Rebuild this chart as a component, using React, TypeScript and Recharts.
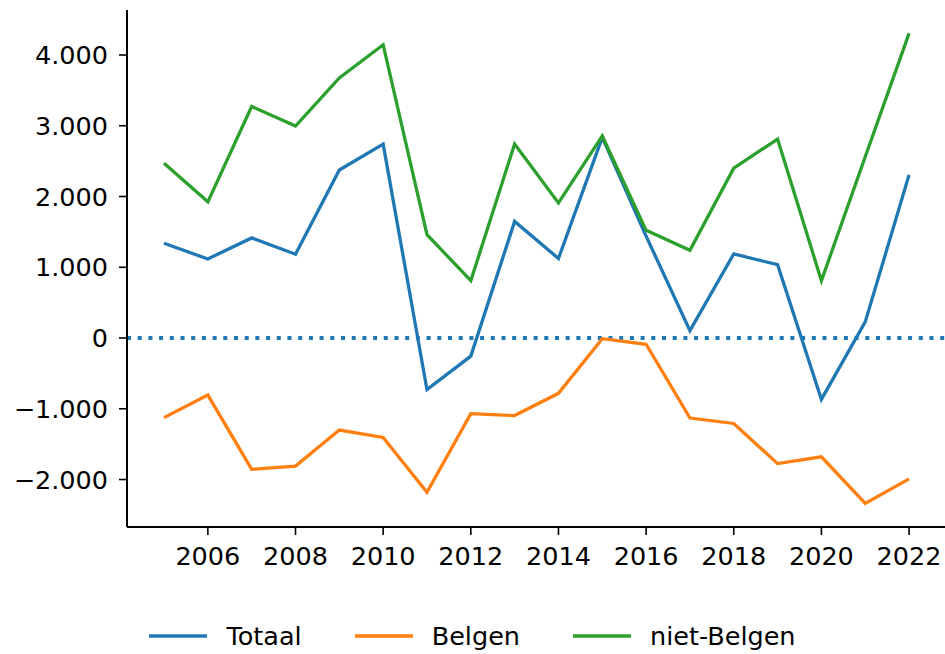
import { CartesianGrid, Legend, Line, LineChart, ReferenceLine, XAxis, YAxis } from "recharts"

const years = [2005, 2006, 2007, 2008, 2009, 2010, 2011, 2012, 2013, 2014, 2015, 2016, 2017, 2018, 2019, 2020, 2021, 2022]
const totaal = [1340, 1117, 1415, 1185, 2374, 2740, -730, -256, 1648, 1124, 2835, 1440, 104, 1188, 1037, -868, 228, 2306]
const belgen = [-1125, -806, -1856, -1810, -1301, -1405, -2180, -1070, -1096, -782, -10, -88, -1131, -1208, -1775, -1680, -2338, -1990]
const nietBelgen = [2470, 1925, 3273, 2995, 3675, 4145, 1462, 810, 2743, 1910, 2856, 1522, 1240, 2400, 2812, 810, 2562, 4306]

const yTicks = [-2000, -1000, 0, 1000, 2000, 3000, 4000]
const xTicks = [2006, 2008, 2010, 2012, 2014, 2016, 2018, 2020, 2022]

const series = [
  { key: "totaal", name: "Totaal", color: "#1f77b4" },
  { key: "belgen", name: "Belgen", color: "#ff7f0e" },
  { key: "nietBelgen", name: "niet-Belgen", color: "#2ca02c" },
]

const data = years.map((year, i) => ({
  year,
  totaal: totaal[i],
  belgen: belgen[i],
  nietBelgen: nietBelgen[i],
}))

const font = "'DejaVu Sans', sans-serif"

const formatNumber = (v: number) => {
  const s = Math.abs(v).toString().replace(/\B(?=(\d{3})+(?!\d))/g, ".")
  return v < 0 ? "\u2212" + s : s
}

// keep legend in series order (recharts sorts it by name otherwise)
const seriesOrder = (name: string) => series.findIndex((s) => s.name === name)

const renderLegend = (props: any) => {
  const items = [...(props.payload || [])].sort((a: any, b: any) => seriesOrder(a.value) - seriesOrder(b.value))
  return (
    <div
      style={{
        height: 40,
        paddingTop: 9,
        boxSizing: "border-box",
        display: "flex",
        justifyContent: "center",
        fontFamily: font,
        fontSize: 25.5,
        color: "#000",
      }}
    >
      {items.map((entry: any, i: number) => (
        <div
          key={entry.value}
          style={{ display: "flex", alignItems: "center", height: 26, lineHeight: "26px", marginLeft: i === 0 ? 0 : 53 }}
        >
          <svg width={58} height={6} style={{ marginRight: 19 }}>
            <line x1={0} y1={3} x2={58} y2={3} stroke={entry.color} strokeWidth={3.5} />
          </svg>
          <span>{entry.value}</span>
        </div>
      ))}
    </div>
  )
}

export default function App() {
  return (
    <div style={{ width: 945, height: 654, background: "#fff" }}>
      <style>{`body { margin: 0; }`}</style>
      <LineChart width={945} height={654} data={data} margin={{ top: 10, right: 0, left: 0, bottom: 0 }}>
        <CartesianGrid stroke="none" />
        <XAxis
          dataKey="year"
          type="number"
          domain={[2004.155, 2022.82]}
          ticks={xTicks}
          allowDataOverflow
          height={87}
          tickSize={8}
          tickMargin={12}
          stroke="#000"
          strokeWidth={2}
          tick={{ fill: "#000", fontSize: 25.5, fontFamily: font }}
          tickLine={{ stroke: "#000", strokeWidth: 1.6 }}
        />
        <YAxis
          type="number"
          domain={[-2671, 4636]}
          ticks={yTicks}
          allowDataOverflow
          width={127}
          tickSize={8}
          tickMargin={11}
          stroke="#000"
          strokeWidth={2}
          tickFormatter={formatNumber}
          tick={{ fill: "#000", fontSize: 25.5, fontFamily: font }}
          tickLine={{ stroke: "#000", strokeWidth: 1.6 }}
        />
        <ReferenceLine y={0} stroke="#1f77b4" strokeWidth={3.8} strokeDasharray="4 6.7" />
        {series.map((s) => (
          <Line
            key={s.key}
            dataKey={s.key}
            name={s.name}
            stroke={s.color}
            strokeWidth={3.3}
            dot={false}
            activeDot={false}
            type="linear"
            isAnimationActive={false}
          />
        ))}
        <Legend verticalAlign="bottom" align="center" content={renderLegend} />
      </LineChart>
    </div>
  )
}
